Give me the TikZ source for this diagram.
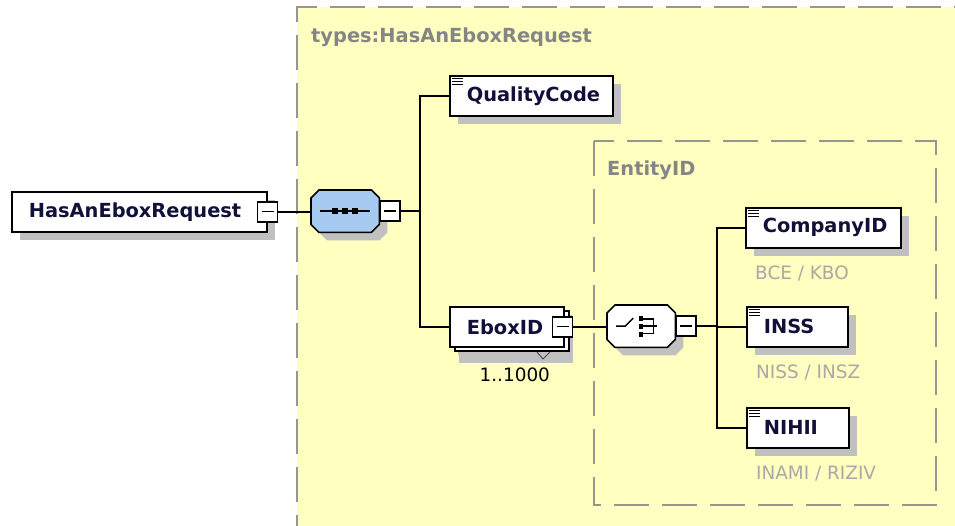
\documentclass[tikz,border=0pt]{standalone}
\usepackage{fontspec}
\setmainfont{DejaVu Sans}
\usetikzlibrary{positioning,shadows}
\definecolor{typebg}{HTML}{FFFFC0}
\definecolor{framegray}{HTML}{959595}
\definecolor{shadegray}{HTML}{C0C0C0}
\definecolor{seqblue}{HTML}{A6CAF0}
\definecolor{elemtext}{HTML}{10103A}
\definecolor{grouptext}{HTML}{858585}
\definecolor{notetext}{HTML}{A8A8A8}
\newcommand{\elemfont}{\fontsize{19.4}{23}\selectfont\bfseries}
\newcommand{\notefont}{\fontsize{18.4}{22}\selectfont}
% octagon outline drawn round a compositor node
\newcommand{\octagonbox}[2]{%
  \draw[line width=1.6pt, fill=#2,
    general shadow={fill=shadegray, shadow xshift=8pt, shadow yshift=-8pt}]
    ([xshift=8pt]#1.north west) -- ([xshift=-8pt]#1.north east)
    -- ([yshift=-8pt]#1.north east) -- ([yshift=8pt]#1.south east)
    -- ([xshift=-8pt]#1.south east) -- ([xshift=8pt]#1.south west)
    -- ([yshift=8pt]#1.south west) -- ([yshift=-8pt]#1.north west) -- cycle;}

\tikzset{
  elem/.style={draw, line width=1.6pt, fill=white, anchor=north west,
    minimum height=40pt, inner xsep=17pt, inner ysep=0pt, text width=#1,
    align=left, font=\elemfont, text=elemtext,
    general shadow={fill=shadegray, shadow xshift=8pt, shadow yshift=-8pt}},
  minus/.style={draw, line width=1.5pt, fill=white, minimum size=20pt, inner sep=0pt,
    path picture={\draw[line width=1.4pt]
      ([xshift=4pt]path picture bounding box.west) --
      ([xshift=-4pt]path picture bounding box.east);}},
  compositor/.style={rectangle, minimum width=68pt, minimum height=42pt,
    inner sep=0pt, anchor=north west},
  group/.style={draw=framegray, line width=2pt, dash pattern=on 35pt off 13pt},
  grouplabel/.style={font=\elemfont, text=grouptext, anchor=base west, inner sep=0pt},
  note/.style={font=\notefont, text=notetext, inner sep=0pt, anchor=north west},
  conn/.style={line width=1.6pt},
}

\begin{document}
\begin{tikzpicture}[x=1pt,y=-1pt]
  \fill[white] (0,0) rectangle (955,526);
  \useasboundingbox (0,0) rectangle (955,526);

  % complex type frame
  \fill[typebg] (297,7) rectangle (980,550);
  \draw[group] (297,550) -- (297,7) -- (980,7);
  \node[grouplabel] (typelbl) at (311,43) {types:HasAnEboxRequest};

  % choice group frame
  \draw[group] (594,141) rectangle (936,505);
  \node[grouplabel] (grplbl) at (607,176) {EntityID};

  % elements
  \node[elem=221pt] (root) at (11,191) {HasAnEboxRequest};
  \node[minus] (rootm) at (root.east) {};

  \node[compositor] (seq) at (311,190) {};
  \octagonbox{seq}{seqblue}
  \node[minus, right=0pt of seq] (seqm) {};

  \node[elem=129pt] (qual) at (449,75) {QualityCode};

  \node[elem=80pt,
    general shadow={fill=shadegray, shadow xshift=9pt, shadow yshift=-16pt},
    copy shadow={shadow xshift=5pt, shadow yshift=-4pt, fill=white,
      draw=black, line width=1.6pt}] (ebox) at (449,306) {EboxID};
  \node[minus] (eboxm) at ([xshift=-2pt]ebox.east) {};
  \draw[line width=1pt, black!70] (537,352) -- (543,359) -- (550,352);
  \node[font=\notefont, inner sep=0pt, anchor=north] (eboxmult)
    at ([xshift=8pt,yshift=-20pt]ebox.south) {1..1000};

  \node[compositor] (choice) at (607,305) {};
  \octagonbox{choice}{white}
  \node[minus, right=0pt of choice] (choicem) {};

  \node[elem=121pt] (comp) at (745,207) {CompanyID};
  \node[elem=67pt] (inss) at (746,306) {INSS};
  \node[elem=68pt] (nihii) at (746,407) {NIHII};

  \foreach \n in {qual,comp,inss,nihii}
    \foreach \k in {3,6,9}
      \draw[line width=0.9pt] ([xshift=3pt,yshift=-\k pt]\n.north west) -- ++(11,0);

  \node[note] (compnote) at ([xshift=10pt,yshift=-17pt]comp.south west) {BCE / KBO};
  \node[note] (inssnote) at ([xshift=10pt,yshift=-17pt]inss.south west) {NISS / INSZ};
  \node[note] (nihiinote) at ([xshift=10pt,yshift=-17pt]nihii.south west) {INAMI / RIZIV};

  % compositor symbols
  \begin{scope}[shift={(seq.center)}, line width=1.4pt]
    \draw (-25,0) -- (25,0);
    \foreach \s in {-10,0,10}
      \fill (\s-3,-3) rectangle (\s+3,3);
  \end{scope}
  \begin{scope}[shift={(choice.center)}, line width=1.4pt]
    \draw (-25,0) -- (-16,0) -- (-8,-8);
    \foreach \s in {-8,0,8}
      \fill (-2,\s-2.5) rectangle (2,\s+2.5);
    \draw (2,-7) -- (12,-7) -- (12,7) -- (2,7);
    \draw (2,0) -- (16,0);
  \end{scope}

  % connectors
  \draw[conn] (rootm.east) -- (rootm.east -| seq.west);
  \draw[conn] (seqm.east) -- ++(19,0) |- (qual.west);
  \draw[conn] (seqm.east) -- ++(19,0) |- (ebox.west);
  \draw[conn] (eboxm.east) -- (eboxm.east -| choice.west);
  \draw[conn] (choicem.east) -- ++(20,0) |- (comp.west);
  \draw[conn] (choicem.east) -- ++(20,0) |- (inss.west);
  \draw[conn] (choicem.east) -- ++(20,0) |- (nihii.west);
\end{tikzpicture}
\end{document}
